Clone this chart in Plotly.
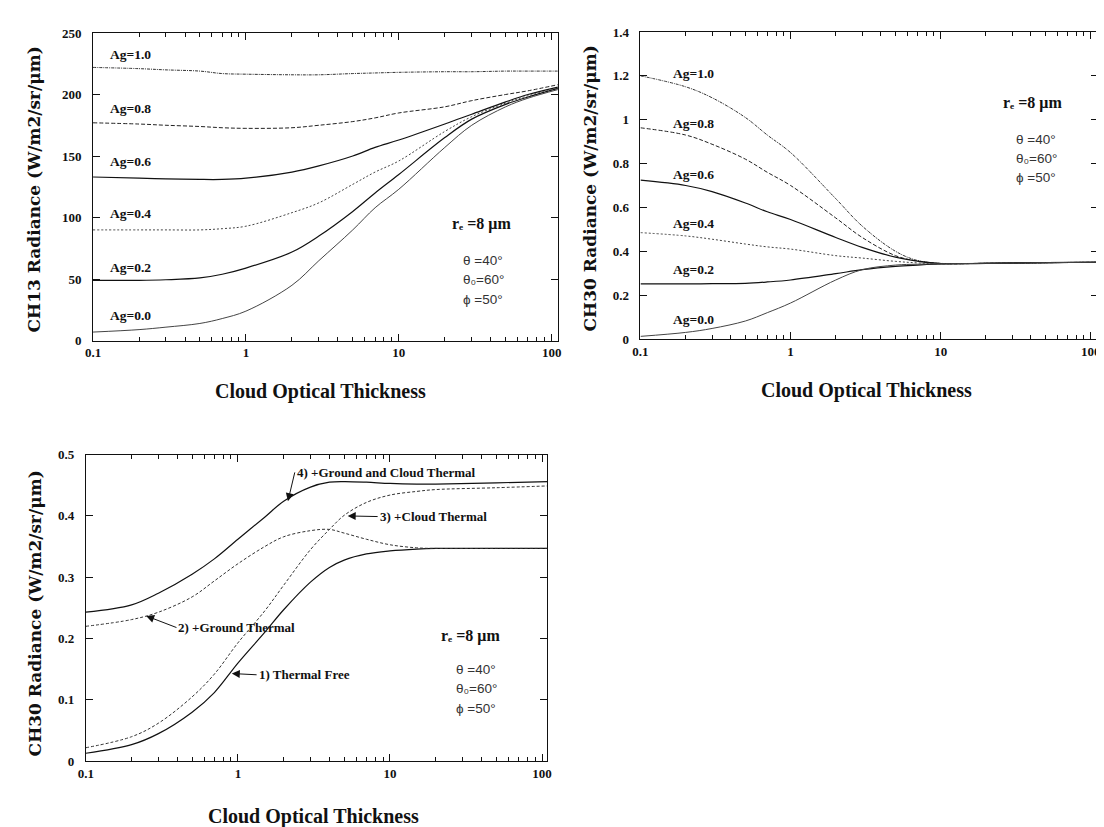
import plotly.graph_objects as go

# ---------------- Data ----------------
# Panel 1: CH13 radiance vs cloud optical thickness
tau1 = [0.1, 0.2, 0.3, 0.5, 0.7, 1, 2, 3, 5, 7, 10, 20, 30, 50, 70, 110]
ch13_ag10 = [222, 221, 220, 219, 217, 216.5, 216, 216, 217, 217.5, 218, 218.5, 218.5, 219, 219, 219]
ch13_ag08 = [177, 176, 175, 174, 173, 172.5, 173, 175, 178, 181, 185, 190, 195, 200, 203, 208]
ch13_ag06 = [133, 132, 131.5, 131, 131, 132, 137, 142, 150, 157, 163, 176, 184, 194, 200, 206]
ch13_ag04 = [90, 90, 90, 90, 91, 93, 104, 112, 127, 137, 146, 170, 182, 193, 199, 205]
ch13_ag02 = [49, 49, 49.5, 51, 54, 59, 72, 85, 105, 120, 135, 165, 180, 192, 198, 205]
ch13_ag00 = [7, 9, 11, 14, 18, 24, 45, 65, 90, 108, 123, 157, 175, 190, 197, 204]

# Panel 2: CH30 radiance vs cloud optical thickness
tau2 = [0.1, 0.2, 0.3, 0.5, 0.7, 1, 2, 3, 5, 7, 10, 20, 50, 112]
ch30_ag10 = [1.20, 1.15, 1.10, 1.01, 0.93, 0.85, 0.64, 0.515, 0.40, 0.358, 0.345, 0.345, 0.348, 0.350]
ch30_ag08 = [0.963, 0.93, 0.888, 0.82, 0.76, 0.70, 0.552, 0.463, 0.38, 0.355, 0.344, 0.345, 0.348, 0.350]
ch30_ag06 = [0.724, 0.70, 0.672, 0.62, 0.58, 0.545, 0.463, 0.418, 0.373, 0.355, 0.344, 0.345, 0.348, 0.350]
ch30_ag04 = [0.485, 0.47, 0.455, 0.433, 0.42, 0.41, 0.38, 0.369, 0.354, 0.347, 0.343, 0.345, 0.348, 0.350]
ch30_ag02 = [0.251, 0.251, 0.252, 0.254, 0.26, 0.269, 0.298, 0.316, 0.331, 0.337, 0.342, 0.345, 0.348, 0.350]
ch30_ag00 = [0.012, 0.03, 0.048, 0.082, 0.12, 0.164, 0.269, 0.316, 0.337, 0.341, 0.343, 0.345, 0.348, 0.350]

# Panel 3: CH30 thermal contributions
tau3 = [0.1, 0.2, 0.3, 0.5, 0.7, 1, 1.5, 2, 3, 4, 5, 7, 10, 15, 20, 50, 110]
th_free = [0.013, 0.027, 0.045, 0.080, 0.112, 0.160, 0.210, 0.247, 0.292, 0.316, 0.328, 0.338, 0.343, 0.346, 0.347, 0.347, 0.347]
th_ground = [0.220, 0.231, 0.243, 0.268, 0.294, 0.322, 0.350, 0.366, 0.376, 0.378, 0.372, 0.362, 0.353, 0.348, 0.347, 0.347, 0.347]
th_cloud = [0.022, 0.040, 0.062, 0.105, 0.142, 0.193, 0.245, 0.287, 0.345, 0.378, 0.401, 0.422, 0.434, 0.440, 0.443, 0.446, 0.449]
th_both = [0.243, 0.255, 0.274, 0.305, 0.330, 0.362, 0.398, 0.424, 0.447, 0.455, 0.456, 0.455, 0.453, 0.452, 0.452, 0.454, 0.456]

ag_labels = ["Ag=1.0", "Ag=0.8", "Ag=0.6", "Ag=0.4", "Ag=0.2", "Ag=0.0"]
param_labels = ["θ =40°", "θ₀=60°", "ϕ =50°"]
re_label = "rₑ =8 μm"
xtick_vals = [0.1, 1, 10, 100]
xtick_text = ["0.1", "1", "10", "100"]
minor_vals = [m * d for d in [0.1, 1, 10] for m in range(2, 10)]

SERIF = "Liberation Serif"
SANS = "Liberation Sans"

fig = go.Figure()

styles = [
    dict(color="#333", width=1, dash="3px,1px,1px,1px"),
    dict(color="#222", width=1, dash="4px,2px"),
    dict(color="#111", width=1.2, dash="solid"),
    dict(color="#444", width=1, dash="2px,2px"),
    dict(color="#111", width=1.2, dash="solid"),
    dict(color="#444", width=1, dash="solid"),
]
for ys, st in zip([ch13_ag10, ch13_ag08, ch13_ag06, ch13_ag04, ch13_ag02, ch13_ag00], styles):
    fig.add_trace(go.Scatter(x=tau1, y=ys, mode="lines", line=st, xaxis="x", yaxis="y",
                             showlegend=False, line_shape="spline"))

for ys, st in zip([ch30_ag10, ch30_ag08, ch30_ag06, ch30_ag04, ch30_ag02, ch30_ag00], styles):
    fig.add_trace(go.Scatter(x=tau2, y=ys, mode="lines", line=st, xaxis="x2", yaxis="y2",
                             showlegend=False, line_shape="spline"))

p3_styles = [
    dict(color="#111", width=1.2, dash="solid"),
    dict(color="#333", width=1, dash="3px,2px"),
    dict(color="#333", width=1, dash="3px,2px"),
    dict(color="#111", width=1.2, dash="solid"),
]
for ys, st in zip([th_free, th_ground, th_cloud, th_both], p3_styles):
    fig.add_trace(go.Scatter(x=tau3, y=ys, mode="lines", line=st, xaxis="x3", yaxis="y3",
                             showlegend=False, line_shape="spline"))

# ---------------- Axes ----------------
def xax(domain, rng, anchor):
    return dict(type="log", domain=domain, range=rng, anchor=anchor,
                tickvals=xtick_vals, ticktext=xtick_text,
                ticks="inside", ticklen=7, tickwidth=1, tickcolor="#111",
                minor=dict(tickvals=minor_vals, ticks="inside", ticklen=4, tickcolor="#111"),
                showline=True, linecolor="#111", linewidth=1, mirror="allticks",
                showgrid=False, zeroline=False,
                tickfont=dict(family=SERIF, size=13, color="#111", weight="bold"),
                ticklabelstandoff=0)

def yax(domain, rng, dtick, anchor):
    return dict(domain=domain, range=rng, dtick=dtick, anchor=anchor,
                ticks="inside", ticklen=7, tickwidth=1, tickcolor="#111",
                showline=True, linecolor="#111", linewidth=1, mirror="allticks",
                showgrid=False, zeroline=False,
                tickfont=dict(family=SERIF, size=13, color="#111", weight="bold"),
                ticklabelstandoff=8)

fig.update_layout(
    width=1104, height=827,
    margin=dict(l=0, r=0, t=0, b=0),
    paper_bgcolor="white", plot_bgcolor="white",
    xaxis=xax([0.0706, 0.4966], [-1, 2.040], "y"),
    yaxis=yax([0.5989, 0.9779], [0, 250], 50, "x"),
    xaxis2=xax([0.5724, 0.9918], [-1, 2.049], "y2"),
    yaxis2=yax([0.6010, 0.9791], [0, 1.4], 0.2, "x2"),
    xaxis3=xax([0.0640, 0.4869], [-1, 2.034], "y3"),
    yaxis3=yax([0.0810, 0.4586], [0, 0.5], 0.1, "x3"),
)

ann = []
def label(text, x, y, xr, yr, size=13.5, family=SERIF, bold=True, color="#111", xanchor="left"):
    ann.append(dict(text=text, x=x, y=y, xref=xr, yref=yr, showarrow=False,
                    xanchor=xanchor, yanchor="middle",
                    font=dict(family=family, size=size, color=color,
                              weight="bold" if bold else "normal")))

# Ag labels panel 1
for t, yv in zip(ag_labels, [232.7, 188.8, 145.7, 103.2, 59.8, 20.5]):
    label(t, -0.903, yv, "x", "y")
# Ag labels panel 2
for t, yv in zip(ag_labels, [1.212, 0.981, 0.749, 0.527, 0.316, 0.087]):
    label(t, -0.797, yv, "x2", "y2")

# parameter blocks
for xr, yr, xr_e, y_re, xth, ys in [
    ("x", "y", 1.334, 94.4, 1.408, [65.2, 49.7, 33.8]),
    ("x2", "y2", 1.404, 1.075, 1.488, [0.910, 0.824, 0.736]),
    ("x3", "y3", 1.325, 0.205, 1.418, [0.150, 0.118, 0.086]),
]:
    label(re_label, xr_e, y_re, xr, yr, size=16)
    for t, yv in zip(param_labels, ys):
        label(t, xth, yv, xr, yr, size=13.5, family=SANS, bold=False, color="#333")

# Panel 3 labelled arrows: (text, tip x(log), tip y, text-left x(log), text y)
p3_notes = [
    ("4) +Ground and Cloud Thermal", 0.329, 0.424, 0.374, 0.471),
    ("3) +Cloud Thermal", 0.722, 0.400, 0.919, 0.399),
    ("2) +Ground Thermal", -0.603, 0.237, -0.404, 0.218),
    ("1) Thermal Free", -0.040, 0.143, 0.123, 0.141),
]
for t, tipx, tipy, tx, ty in p3_notes:
    ann.append(dict(text=t, x=tipx, y=tipy, ax=tx, ay=ty,
                    xref="x3", yref="y3", axref="x3", ayref="y3",
                    xanchor="left", yanchor="middle",
                    showarrow=True, arrowhead=2, arrowsize=1.6, arrowwidth=1,
                    arrowcolor="#111", standoff=0,
                    font=dict(family=SERIF, size=13, color="#111", weight="bold")))

# Axis titles
def title(text, x, y, angle=0, family=SERIF, size=20):
    ann.append(dict(text=text, x=x, y=y, xref="paper", yref="paper", showarrow=False,
                    xanchor="center", yanchor="middle", textangle=angle,
                    font=dict(family=family, size=size, color="#111", weight="bold")))

YT_FONT = "DejaVu Serif"
title("CH13 Radiance (W/m2/sr/μm)", 0.0162, 0.7848, -90, YT_FONT, 17)
title("Cloud Optical Thickness", 0.279, 0.5369)
title("CH30 Radiance (W/m2/sr/μm)", 0.5258, 0.786, -90, YT_FONT, 17)
title("Cloud Optical Thickness", 0.7793, 0.5381)
title("CH30 Radiance (W/m2/sr/μm)", 0.0178, 0.2636, -90, YT_FONT, 17)
title("Cloud Optical Thickness", 0.2724, 0.0125)

fig.update_layout(annotations=ann)
fig.write_html("out.html")
